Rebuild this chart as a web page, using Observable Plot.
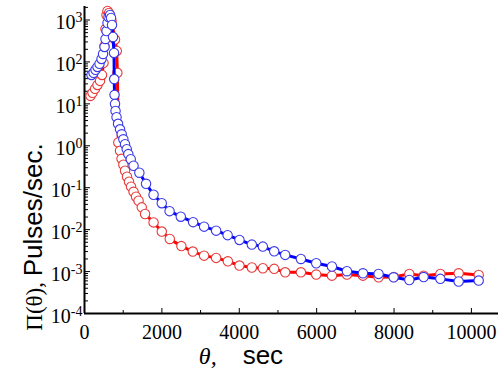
<!DOCTYPE html>
<html><head><meta charset="utf-8">
<script src="https://cdn.jsdelivr.net/npm/d3@7"></script>
<script src="https://cdn.jsdelivr.net/npm/@observablehq/plot@0.6"></script>
<style>html,body{margin:0;padding:0;background:#fff} svg{display:block}</style>
</head><body><div id="chart"></div>
<script>
// Red series: time (sec) and pulse rate (pulses/sec)
const redTime = [155, 207, 272, 336, 401, 453, 492, 517, 543, 569, 595, 634, 698, 789, 833, 849, 874, 918, 957, 1004, 1048, 1099, 1151, 1203, 1268, 1332, 1397, 1480, 1565, 1785, 1997, 2204, 2504, 2799, 3091, 3402, 3705, 4005, 4325, 4610, 4902, 5187, 5593, 5989, 6395, 6783, 7197, 7600, 7994, 8395, 8765, 9197, 9670, 10188];
const redRate = [15.5, 18.3, 22.8, 28.3, 35.3, 49, 95, 240, 610, 1320, 1640, 1470, 950, 344, 183, 55, 1.2, 0.76, 0.49, 0.353, 0.254, 0.183, 0.139, 0.106, 0.080, 0.061, 0.049, 0.034, 0.0236, 0.0149, 0.0090, 0.0060, 0.00405, 0.0030, 0.0024, 0.00212, 0.00176, 0.00139, 0.00125, 0.0012, 0.00116, 0.00096, 0.00096, 0.00085, 0.0008, 0.00085, 0.0008, 0.00073, 0.00074, 0.00088, 0.0008, 0.00088, 0.00091, 0.00083];
// Blue series
const blueTime = [181, 233, 285, 336, 388, 440, 479, 517, 543, 569, 595, 621, 660, 686, 711, 737, 763, 768, 776, 789, 802, 828, 867, 918, 962, 1004, 1048, 1092, 1133, 1195, 1268, 1418, 1591, 1785, 1997, 2199, 2489, 2807, 3091, 3402, 3699, 4005, 4325, 4610, 4902, 5187, 5593, 5989, 6395, 6783, 7197, 7600, 7989, 8395, 8765, 9197, 9670, 10188];
const blueRate = [49, 55, 65, 76, 90, 118, 155, 228, 353, 547, 849, 1180, 1316, 1116, 760, 394, 164, 39, 16.4, 10, 6.8, 4.8, 3.34, 2.47, 1.88, 1.43, 1.09, 0.826, 0.634, 0.477, 0.334, 0.228, 0.124, 0.068, 0.0428, 0.0276, 0.0204, 0.0151, 0.0118, 0.00946, 0.0074, 0.00569, 0.0044, 0.00394, 0.00304, 0.0025, 0.002, 0.00158, 0.00132, 0.00102, 0.00091, 0.00088, 0.00073, 0.00063, 0.00074, 0.00067, 0.00058, 0.00061];

// Ticks
const xMajor = [0, 2000, 4000, 6000, 8000, 10000];
const xMinor = [1000, 3000, 5000, 7000, 9000];
const yExponents = [-4, -3, -2, -1, 0, 1, 2, 3];
const yMantissas = [2, 3, 4, 5, 6, 7, 8, 9];

// Axis titles
const yTitleSerif = "Π(θ), ";
const yTitleSans = "Pulses/sec.";
const xTitleSerif = "θ,";
const xTitleSans = "sec";

const yMajor = yExponents.map(e => Math.pow(10, e));
const yMinor = yExponents.flatMap(e => yMantissas.map(m => m * Math.pow(10, e))).filter(v => v <= 2100);

const red = redTime.map((t, i) => ({t, r: redRate[i]}));
const blue = blueTime.map((t, i) => ({t, r: blueRate[i]}));

const serif = "Liberation Serif";
const sans = "Liberation Sans";

const svg = Plot.plot({
  width: 500, height: 373,
  marginLeft: 84, marginRight: 2, marginTop: 6, marginBottom: 60,
  style: {background: "white", color: "black", fontSize: "20px", overflow: "visible"},
  x: {domain: [0, 10700], label: null},
  y: {type: "log", domain: [1e-4, 2100], label: null},
  marks: [
    Plot.axisX({ticks: xMinor, tickSize: -3, tickFormat: () => "", label: null}),
    Plot.axisX({ticks: xMajor, tickSize: -5, tickFormat: () => "", label: null}),
    Plot.axisX({ticks: xMajor, tickSize: 0, tickPadding: 11, fontFamily: serif, tickFormat: d => String(d), label: null}),
    Plot.axisY({ticks: yMinor, tickSize: -4, tickFormat: () => "", label: null}),
    Plot.axisY({ticks: yMajor, tickSize: -6, tickFormat: () => "", label: null}),
    Plot.axisY({ticks: yMajor, tickSize: 0, tickPadding: 2, dy: 3, fontFamily: serif, tickFormat: d => "10^" + Math.round(Math.log10(d)), label: null}),
    Plot.ruleX([0], {strokeWidth: 2}),
    Plot.ruleY([1e-4], {strokeWidth: 2}),
    Plot.line(red, {x: "t", y: "r", stroke: "#ff0000", strokeWidth: 3}),
    Plot.dot(red, {x: "t", y: "r", r: 4.7, stroke: "#e83a3a", fill: "white", strokeWidth: 1.1}),
    Plot.line(blue, {x: "t", y: "r", stroke: "#0000ff", strokeWidth: 3}),
    Plot.dot(blue, {x: "t", y: "r", r: 4.7, stroke: "#3a3ae8", fill: "white", strokeWidth: 1.1})
  ]
});

// superscript exponents on y tick labels
d3.select(svg).selectAll('g[aria-label="y-axis tick label"] text').each(function () {
  const s = this.textContent;
  const [b, e] = s.split("^");
  const t = d3.select(this);
  t.text(null);
  t.append("tspan").text(b);
  t.append("tspan").attr("dy", "-0.5em").attr("font-size", "14px").text(e);
});

// axis titles
const yTitle = d3.select(svg).append("text")
  .attr("transform", "translate(42,237) rotate(-90)")
  .attr("fill", "black");
yTitle.append("tspan").attr("font-family", serif).attr("font-size", 23).text(yTitleSerif);
yTitle.append("tspan").attr("font-family", sans).attr("font-size", 26).text(yTitleSans);

const xTitle = d3.select(svg).append("text")
  .attr("x", 241).attr("y", 364).attr("fill", "black");
xTitle.append("tspan").attr("font-family", serif).attr("font-style", "italic").attr("font-size", 24).text(xTitleSerif);
xTitle.append("tspan").attr("dx", 26).attr("font-family", sans).attr("font-size", 26).text(xTitleSans);

document.getElementById("chart").appendChild(svg);
</script>
</body></html>
